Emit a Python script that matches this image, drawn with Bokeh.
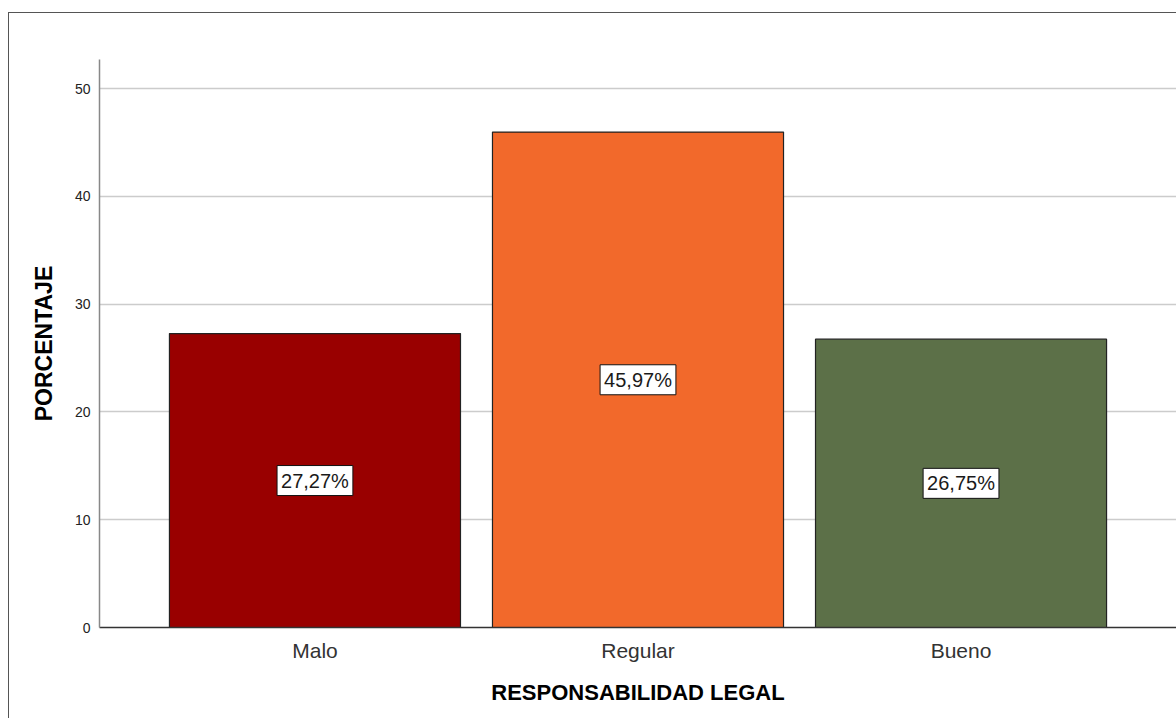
from bokeh.plotting import figure
from bokeh.models import (ColumnDataSource, Range1d, FixedTicker, Label,
                          CustomJSTickFormatter, InlineStyleSheet)
from bokeh.embed import file_html
from bokeh.resources import INLINE

# Responsabilidad legal: distribución porcentual
categorias = ["Malo", "Regular", "Bueno"]
porcentajes = [27.27, 45.97, 26.75]
colores = ["#990000", "#f2692b", "#5c7048"]
y_ticks = [0, 10, 20, 30, 40, 50]

etiquetas = [f"{v:.2f}".replace(".", ",") + "%" for v in porcentajes]
src = ColumnDataSource(dict(
    x=list(range(len(categorias))),
    top=porcentajes,
    color=colores,
))

FONT = "Liberation Sans"

p = figure(width=1176, height=718, output_backend="svg", toolbar_location=None,
           x_range=Range1d(-0.667, 2.667), y_range=Range1d(0, 52.7),
           min_border_left=99, min_border_right=0, min_border_top=59,
           min_border_bottom=91, background_fill_color="white",
           border_fill_color="white", outline_line_color=None)

# Thin frame around the chart area (top and left edges visible)
p.stylesheets = [InlineStyleSheet(css="""
:host { position: relative; }
:host::after {
  content: ""; position: absolute; left: 8px; top: 12px; right: -2px; bottom: -2px;
  border-left: 1px solid #555555; border-top: 1px solid #555555;
  pointer-events: none;
}
""")]

p.vbar(x="x", top="top", width=0.901, bottom=0, source=src,
       fill_color="color", line_color="#222222", line_width=1.2)

# Value boxes at the middle of each bar
for i, (v, txt) in enumerate(zip(porcentajes, etiquetas)):
    p.add_layout(Label(x=i, y=v / 2, text=txt,
                       text_align="center", text_baseline="middle",
                       text_font=FONT, text_font_size="20px", text_color="#1a1a1a",
                       background_fill_color="white", border_line_color="#111111",
                       border_line_width=1, padding=4))

# Y axis
p.yaxis.ticker = FixedTicker(ticks=y_ticks)
p.yaxis.axis_label = "PORCENTAJE"
p.yaxis.axis_label_text_font = FONT
p.yaxis.axis_label_text_font_style = "bold"
p.yaxis.axis_label_text_font_size = "23px"
p.yaxis.axis_label_text_color = "black"
p.yaxis.axis_label_standoff = 15
p.yaxis.major_label_text_font = FONT
p.yaxis.major_label_text_font_size = "14px"
p.yaxis.major_label_text_color = "#222222"
p.yaxis.major_tick_line_color = None
p.yaxis.minor_tick_line_color = None
p.yaxis.major_label_standoff = 3
p.yaxis.axis_line_color = "#888888"
p.yaxis.axis_line_width = 1.5

# X axis
p.xaxis.ticker = FixedTicker(ticks=list(range(len(categorias))))
p.xaxis.formatter = CustomJSTickFormatter(
    args=dict(names=categorias), code="return names[Math.round(tick)] || '';")
p.xaxis.axis_label = "RESPONSABILIDAD LEGAL"
p.xaxis.axis_label_text_font = FONT
p.xaxis.axis_label_text_font_style = "bold"
p.xaxis.axis_label_text_font_size = "22px"
p.xaxis.axis_label_text_color = "black"
p.xaxis.axis_label_standoff = 15
p.xaxis.major_label_text_font = FONT
p.xaxis.major_label_text_font_size = "21px"
p.xaxis.major_label_text_color = "#333333"
p.xaxis.major_tick_line_color = None
p.xaxis.minor_tick_line_color = None
p.xaxis.major_label_standoff = 5
p.xaxis.axis_line_color = "#333333"
p.xaxis.axis_line_width = 1.3

p.xgrid.grid_line_color = None
p.ygrid.grid_line_color = "#cccccc"
p.ygrid.grid_line_width = 1.5
p.ygrid.ticker = FixedTicker(ticks=y_ticks[1:])

open("out.html", "w").write(file_html(p, INLINE))
